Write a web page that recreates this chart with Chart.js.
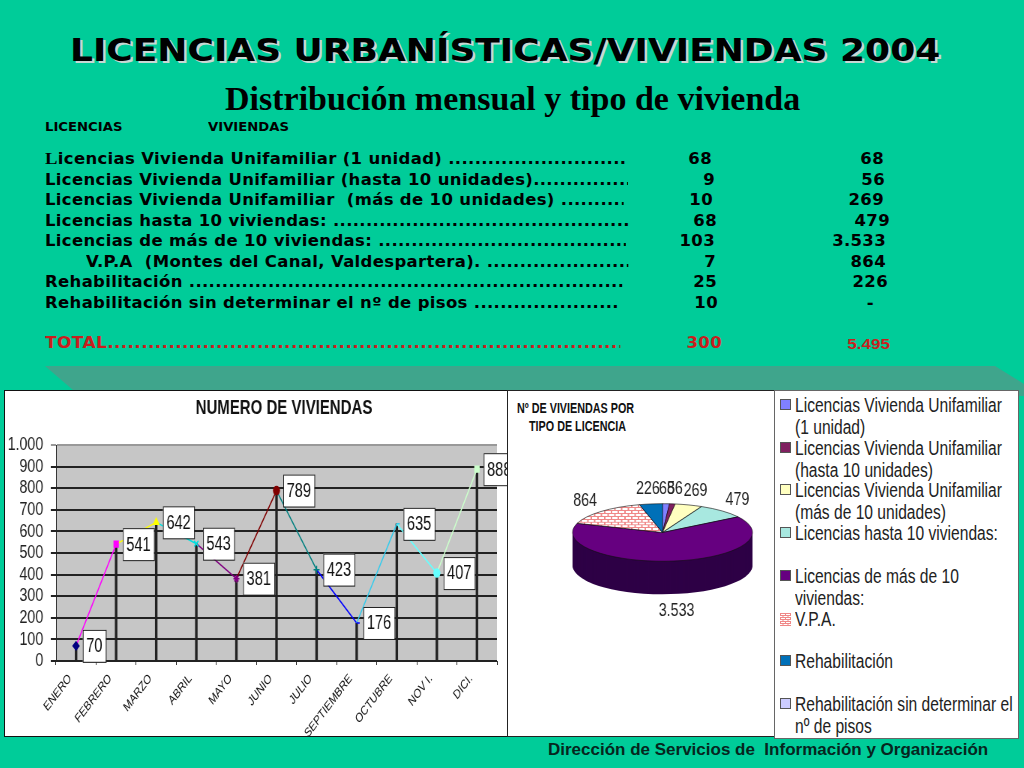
<!DOCTYPE html>
<html>
<head>
<meta charset="utf-8">
<title>Licencias urbanísticas 2004</title>
<script src="https://cdn.jsdelivr.net/npm/chart.js@4"></script>
<style>
html, body { margin: 0; padding: 0; }
body { width: 1024px; height: 768px; background: #00CC99; position: relative; overflow: hidden; }
div, canvas { position: absolute; }
#titulo { left: 70px; top: 31px; white-space: nowrap; font: bold 32px "DejaVu Sans", sans-serif; color: #000; text-shadow: 2px 2px 0 #c8d8d4; transform: scaleX(1.125); transform-origin: 0 0; }
#subtitulo { left: 225px; top: 80px; white-space: nowrap; font: bold 34px "Liberation Serif", serif; color: #000; }
.fila { white-space: nowrap; overflow: hidden; font: bold 15px "DejaVu Sans", sans-serif; height: 20px; line-height: 20px; letter-spacing: .3px; color: #000; transform: scaleX(1.1); transform-origin: 0 0; }
.der { text-align: right; transform-origin: 100% 0; }
.rojo { color: #C81E1E; }
#franja { left: 0; top: 366px; width: 1024px; height: 30px; background: #3FA58C; clip-path: polygon(45px 0, 995px 0, 1024px 18px, 1024px 30px, 80px 30px); }
#panelLineas { left: 4px; top: 390px; width: 502px; height: 345px; background: #fff; border: 1px solid #111; }
#panelTarta { left: 507px; top: 390px; width: 510px; height: 345px; background: #fff; border: 1px solid #222; z-index: 2; }
#panelLeyenda { left: 774px; top: 390px; width: 243px; height: 347px; background: #fff; border: 1px solid #666; z-index: 3; }
#tituloTarta { left: 517px; top: 400px; z-index: 4; font: bold 14px/17.5px "Liberation Sans", sans-serif; white-space: pre; color: #111; transform: scaleX(.77); transform-origin: 0 0; }
.leyenda { left: 795px; z-index: 5; font: 20px/22px "Liberation Sans", sans-serif; white-space: nowrap; color: #222; transform: scaleX(.78); transform-origin: 0 0; }
.caja { left: 780px; width: 9px; height: 9px; border: 1px solid #555; z-index: 5; }
#pie { left: 548px; top: 740px; white-space: nowrap; font: bold 17px "Liberation Sans", sans-serif; color: #06261e; z-index: 6; }
#lineasChart { left: 5px; top: 391px; z-index: 1; transform: scaleX(.75); transform-origin: 0 0; }
#tartaChart { left: 550px; top: 391px; z-index: 4; transform: scaleX(.75); transform-origin: 0 0; }
</style>
</head>
<body>
<div id="titulo">LICENCIAS URBANÍSTICAS/VIVIENDAS 2004</div>
<div id="subtitulo">Distribución mensual y tipo de vivienda</div>
<div class="fila" style="left:45px;top:117px;font-size:12px;letter-spacing:0">LICENCIAS</div>
<div class="fila" style="left:208px;top:117px;font-size:12px;letter-spacing:0">VIVIENDAS</div>
<div id="tabla"></div>
<div id="franja"></div>
<div id="panelLineas"></div>
<canvas id="lineasChart" width="744" height="345"></canvas>
<div id="panelTarta"></div>
<div id="panelLeyenda"></div>
<div id="tituloTarta">Nº DE VIVIENDAS POR
    TIPO DE LICENCIA</div>
<canvas id="tartaChart" width="300" height="345"></canvas>
<div id="leyendaTarta"></div>
<div id="pie">Dirección de Servicios de&nbsp; Información y Organización</div>

<script>
// tabla de arriba
const filasTexto = ['Licencias Vivienda Unifamiliar (1 unidad) ', 'Licencias Vivienda Unifamiliar (hasta 10 unidades)', 'Licencias Vivienda Unifamiliar&nbsp; (más de 10 unidades) ', 'Licencias hasta 10 viviendas: ', 'Licencias de más de 10 viviendas: ', 'V.P.A&nbsp; (Montes del Canal, Valdespartera). ', 'Rehabilitación ', 'Rehabilitación sin determinar el nº de pisos '];
const filasLicencias = ['68', '9', '10', '68', '103', '7', '25', '10'];
const filasViviendas = ['68', '56', '269', '479', '3.533', '864', '226', '-'];
const totalLicencias = '300';
const totalViviendas = '5.495';

// grafico de lineas
const meses = ['ENERO', 'FEBRERO', 'MARZO', 'ABRIL', 'MAYO', 'JUNIO', 'JULIO', 'SEPTIEMBRE', 'OCTUBRE', 'NOV I.', 'DICI.'];
const viviendasMes = [70, 541, 642, 543, 381, 789, 423, 176, 635, 407, 888];
const coloresMes = ['#000080', '#FF00FF', '#FFFF00', '#00E0E0', '#800080', '#800000', '#008080', '#0000FF', '#33CCEE', '#66FFFF', '#CCFFCC'];
const marcasMes = ['rectRot', 'rect', 'triangle', 'crossRot', 'star', 'circle', 'cross', 'dash', 'dash', 'circle', 'rect'];

// grafico de tarta
const tipos = [['Licencias Vivienda Unifamiliar', '(1 unidad)'], ['Licencias Vivienda Unifamiliar', '(hasta 10 unidades)'], ['Licencias Vivienda Unifamiliar', '(más de 10 unidades)'], ['Licencias hasta 10 viviendas:'], ['Licencias de más de 10', 'viviendas:'], ['V.P.A.'], ['Rehabilitación'], ['Rehabilitación sin determinar el', 'nº de pisos']];
const viviendasTipo = [68, 56, 269, 479, 3533, 864, 226, 0];
const coloresTipo = ['#8080FF', '#802060', '#FFFFC0', '#A8E8E0', '#660080', null, '#0070B8', '#CCCCFF'];

// colocar la tabla
const tabla = document.getElementById('tabla');
const puntos = '.'.repeat(120);
const escalaFila = 1.1;
const filaY = [149, 170, 190, 211, 231, 252, 272, 293];
const finTexto = [627, 628, 624, 629, 626, 628, 622, 619];
const finLic = [712, 715, 713, 717, 715, 716, 717, 718];
const finViv = [884, 885, 884, 890, 886, 886, 888, 874];

function fila(html, izq, y, ancho, clase) {
    const d = document.createElement('div');
    d.className = 'fila' + (clase ? ' ' + clase : '');
    d.style.left = izq + 'px';
    d.style.top = y + 'px';
    if (ancho) d.style.width = ancho + 'px';
    d.innerHTML = html;
    tabla.appendChild(d);
    return d;
}
function derecha(txt, fin, y, clase) {
    return fila(txt, fin - 100, y, 100, 'der' + (clase ? ' ' + clase : ''));
}
filasTexto.forEach((t, i) => {
    const izq = i == 5 ? 86 : 45;
    let txt = t + puntos;
    if (i == 0) txt = '<span style="font-family:\'Liberation Serif\',serif;font-size:17px">L</span>' + txt.slice(1);
    fila(txt, izq, filaY[i], (finTexto[i] - izq) / escalaFila);
    derecha(filasLicencias[i], finLic[i], filaY[i]);
    derecha(filasViviendas[i], finViv[i], filaY[i]);
});
fila('TOTAL' + puntos, 45, 333, 575 / escalaFila, 'rojo').style.fontSize = '15.5px';
derecha(totalLicencias, 722, 333, 'rojo');
const tv = derecha(totalViviendas, 890, 334, 'rojo');
tv.style.fontFamily = '"Liberation Sans", sans-serif';
tv.style.fontSize = '15.5px';
tv.style.letterSpacing = '0';

const fuenteChart = '"Liberation Sans", sans-serif';

// fondo gris de la zona de trazado
const fondoGris = {
    id: 'fondoGris',
    beforeDraw(chart) {
        const a = chart.chartArea;
        chart.ctx.fillStyle = '#C6C6C6';
        chart.ctx.fillRect(a.left, a.top, a.right - a.left, a.bottom - a.top);
    }
};

// cajas blancas con el valor a la derecha de cada punto
const cajasValor = {
    id: 'cajasValor',
    afterDatasetsDraw(chart) {
        const ctx = chart.ctx;
        const meta = chart.getDatasetMeta(1);
        ctx.save();
        ctx.font = '19.5px ' + fuenteChart;
        ctx.textBaseline = 'middle';
        ctx.textAlign = 'center';
        meta.data.forEach((p, i) => {
            const txt = String(viviendasMes[i]);
            const w = ctx.measureText(txt).width + 9;
            const x = p.x + 9;
            const y = p.y - 16;
            ctx.fillStyle = '#fff';
            ctx.fillRect(x, y, w, 32);
            ctx.strokeStyle = '#222';
            ctx.lineWidth = 1;
            ctx.strokeRect(x + .5, y + .5, w, 32);
            ctx.fillStyle = '#111';
            ctx.fillText(txt, x + w / 2, p.y + 1);
        });
        ctx.restore();
    }
};

new Chart(document.getElementById('lineasChart'), {
    type: 'line',
    data: {
        labels: meses,
        datasets: [{
            type: 'bar',
            data: viviendasMes,
            backgroundColor: '#222',
            barThickness: 2.7,
            order: 2
        }, {
            type: 'line',
            data: viviendasMes,
            borderWidth: 1.5,
            tension: 0,
            fill: false,
            order: 1,
            segment: { borderColor: c => coloresMes[c.p1DataIndex] },
            pointStyle: marcasMes,
            pointBackgroundColor: coloresMes,
            pointBorderColor: coloresMes,
            pointBorderWidth: 1.5,
            pointRadius: 4
        }]
    },
    options: {
        responsive: false,
        animation: false,
        plugins: {
            legend: { display: false },
            tooltip: { enabled: false },
            title: {
                display: true,
                text: 'NUMERO DE VIVIENDAS',
                color: '#111',
                font: { family: fuenteChart, size: 20, weight: 'bold' },
                padding: { top: 5, bottom: 25 }
            }
        },
        scales: {
            x: {
                offset: true,
                afterFit: s => { s.height = 75; },
                grid: { offset: true, drawOnChartArea: false, color: '#222', tickLength: 4 },
                border: { color: '#222' },
                ticks: {
                    color: '#111',
                    autoSkip: false,
                    minRotation: 45,
                    maxRotation: 45,
                    labelOffset: -8,
                    font: { family: fuenteChart, size: 13 },
                    padding: 6
                }
            },
            y: {
                min: 0,
                max: 1000,
                afterFit: s => { s.width = 68; },
                grid: { color: c => c.tick.value == 1000 ? '#999' : '#222', lineWidth: 2, tickLength: 7 },
                border: { color: '#222' },
                ticks: {
                    stepSize: 100,
                    autoSkip: false,
                    color: '#222',
                    padding: 10,
                    font: { family: fuenteChart, size: 19 },
                    callback: v => v.toLocaleString('de-DE')
                }
            },
            // eje vacio: deja sitio a la derecha y el titulo sigue centrado en todo el lienzo
            margen: {
                position: 'right',
                afterFit: s => { s.width = 88; },
                grid: { display: false },
                border: { display: false },
                ticks: { display: false }
            }
        }
    },
    plugins: [fondoGris, cajasValor]
});

// trama de ladrillos para V.P.A.
function ladrillos(w, h, grueso, anchoV) {
    const c = document.createElement('canvas');
    c.width = w; c.height = h;
    const g = c.getContext('2d');
    g.fillStyle = '#fff';
    g.fillRect(0, 0, w, h);
    g.fillStyle = '#F08888';
    g.fillRect(0, 0, w, grueso);
    g.fillRect(0, h / 2, w, grueso);
    g.fillRect(0, 0, anchoV, h / 2);
    g.fillRect(w / 2, h / 2, anchoV, h / 2);
    return c;
}
const ctxTarta = document.getElementById('tartaChart').getContext('2d');
coloresTipo[5] = ctxTarta.createPattern(ladrillos(9, 24, 4, 2), 'repeat');

const achatado = 0.24;
const fondoTarta = 33;
const colorLado = '#2E0046';

// la tarta 3D: lado oscuro debajo y la cara achatada encima
const tarta3D = {
    id: 'tarta3D',
    beforeDatasetsDraw(chart) {
        const ctx = chart.ctx;
        const arcos = chart.getDatasetMeta(0).data;
        const cx = arcos[0].x, cy = arcos[0].y;
        for (let d = fondoTarta; d > 0; d--) {
            ctx.save();
            ctx.translate(cx, cy + d);
            ctx.scale(1, achatado);
            ctx.fillStyle = colorLado;
            arcos.forEach(a => {
                ctx.beginPath();
                ctx.moveTo(0, 0);
                ctx.arc(0, 0, a.outerRadius, a.startAngle, a.endAngle);
                ctx.closePath();
                ctx.fill();
            });
            ctx.restore();
        }
        ctx.save();
        ctx.translate(cx, cy);
        ctx.scale(1, achatado);
        ctx.translate(-cx, -cy);
    },
    afterDatasetsDraw(chart) {
        const ctx = chart.ctx;
        ctx.restore();
        const arcos = chart.getDatasetMeta(0).data;
        ctx.save();
        ctx.font = '19px ' + fuenteChart;
        ctx.fillStyle = '#222';
        ctx.textAlign = 'center';
        ctx.textBaseline = 'middle';
        arcos.forEach((a, i) => {
            if (!viviendasTipo[i]) return;
            const m = (a.startAngle + a.endAngle) / 2;
            const sen = Math.sin(m);
            const rx = a.outerRadius + 31;
            const ry = a.outerRadius * achatado + 15 + (sen > 0 ? fondoTarta + 2 : 0);
            ctx.fillText(viviendasTipo[i].toLocaleString('de-DE'), a.x + rx * Math.cos(m), a.y + ry * sen);
        });
        ctx.restore();
    }
};

new Chart(ctxTarta, {
    type: 'pie',
    data: {
        labels: tipos.map(t => t.join(' ')),
        datasets: [{
            data: viviendasTipo,
            backgroundColor: coloresTipo,
            borderColor: '#111',
            borderWidth: 1,
            radius: 120
        }]
    },
    options: {
        responsive: false,
        animation: false,
        layout: { padding: { bottom: 62 } },
        plugins: { legend: { display: false }, tooltip: { enabled: false } }
    },
    plugins: [tarta3D]
});

// leyenda
const leyenda = document.getElementById('leyendaTarta');
const ladrilloLeyenda = ladrillos(5, 4, 1, 1).toDataURL();
tipos.forEach((t, i) => {
    const y = 394 + i * 42.7;
    const caja = document.createElement('div');
    caja.className = 'caja';
    caja.style.top = (y + 5) + 'px';
    if (i == 5) {
        caja.style.background = 'url(' + ladrilloLeyenda + ')';
        caja.style.border = 'none';
        caja.style.width = '11px';
        caja.style.height = '13px';
    } else {
        caja.style.background = coloresTipo[i];
    }
    leyenda.appendChild(caja);
    const txt = document.createElement('div');
    txt.className = 'leyenda';
    txt.style.top = y + 'px';
    txt.innerHTML = t.join('<br>');
    leyenda.appendChild(txt);
});
</script>
</body>
</html>
